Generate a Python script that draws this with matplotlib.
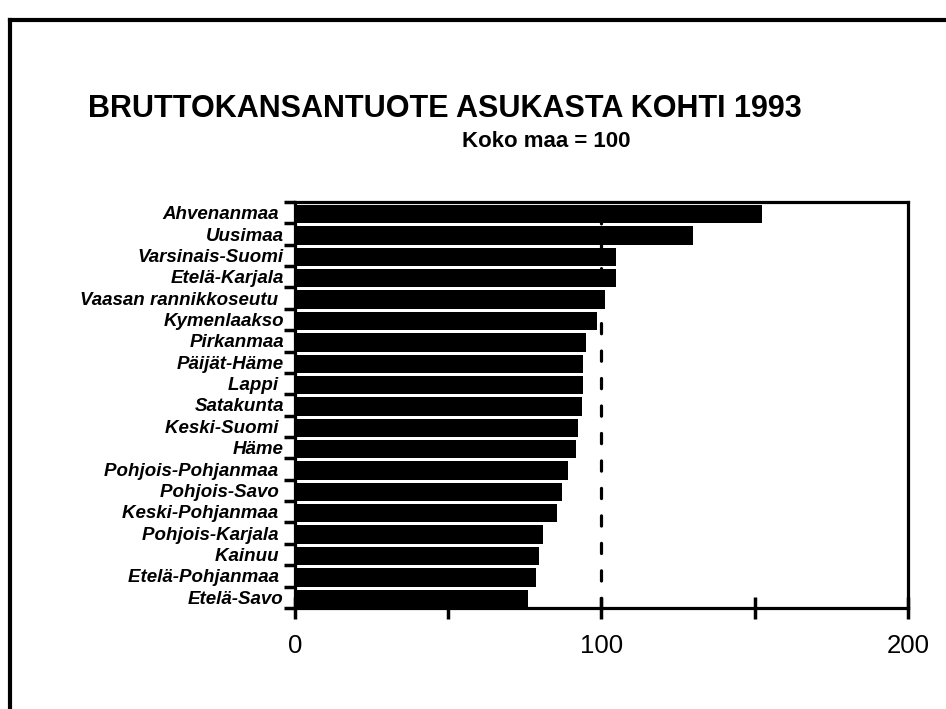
import matplotlib
matplotlib.use('Agg')
import matplotlib.pyplot as plt
from matplotlib.lines import Line2D
import numpy as np

plt.rcParams['font.family'] = ['Liberation Sans', 'DejaVu Sans']

# Data: GDP per capita by region 1993, whole country = 100
regions = ['Ahvenanmaa ', 'Uusimaa', 'Varsinais-Suomi', 'Etelä-Karjala',
           'Vaasan rannikkoseutu ', 'Kymenlaakso', 'Pirkanmaa', 'Päijät-Häme',
           'Lappi ', 'Satakunta', 'Keski-Suomi ', 'Häme',
           'Pohjois-Pohjanmaa ', 'Pohjois-Savo ', 'Keski-Pohjanmaa ',
           'Pohjois-Karjala ', 'Kainuu ', 'Etelä-Pohjanmaa ', 'Etelä-Savo']
values = [152.4, 129.9, 104.7, 104.7, 101.0, 98.5, 95.0, 94.0, 94.0, 93.7,
          92.5, 91.7, 89.0, 87.0, 85.5, 80.9, 79.6, 78.6, 76.0]
reference = 100
xticks = [0, 50, 100, 150, 200]
xticklabels = ['0', '', '100', '', '200']

fig = plt.figure(figsize=(9.46, 7.09), dpi=100)
ax = fig.add_axes([0.3118, 0.1425, 0.648, 0.5726])

n = len(regions)
pos = np.arange(n)
ax.barh(pos + 0.07, values, height=0.86, color='black', zorder=3)
ax.axvline(reference, color='black', lw=2.3, ls=(0, (3.2, 5.4)),
           dash_capstyle='round', zorder=2)

ax.set_xlim(0, 200)
ax.set_ylim(n - 0.5, -0.5)

ax.set_xticks(xticks)
ax.set_xticklabels(xticklabels, fontsize=18.5)
ax.tick_params(axis='x', direction='inout', length=16, width=2.5, pad=11)

ax.set_yticks(pos)
ax.set_yticklabels(regions, fontsize=13.5, fontweight='bold', style='italic')
ax.tick_params(axis='y', which='major', length=0, pad=8)
ax.set_yticks(np.arange(n + 1) - 0.5, minor=True)
ax.tick_params(axis='y', which='minor', direction='out', length=8, width=2.5)

for s in ax.spines.values():
    s.set_linewidth(2.3)

fig.text(0.093, 0.846, 'BRUTTOKANSANTUOTE ASUKASTA KOHTI 1993',
         fontsize=22, fontweight='bold', ha='left', va='center')
fig.text(0.577, 0.801, 'Koko maa = 100', fontsize=16, fontweight='bold',
         ha='center', va='center')

# page frame
fig.add_artist(Line2D([0.0106, 0.0106], [0.0, 0.972], color='black', lw=3,
                      transform=fig.transFigure))
fig.add_artist(Line2D([0.0106, 1.0], [0.972, 0.972], color='black', lw=3,
                      transform=fig.transFigure))

fig.savefig('out.png', dpi=100)
